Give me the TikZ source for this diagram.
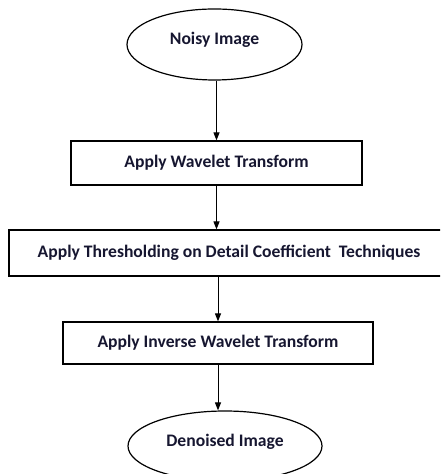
\documentclass[tikz,border=0pt]{standalone}
\usepackage{fontspec}
\setmainfont{Carlito}
\usetikzlibrary{shapes.geometric,arrows.meta}

\definecolor{ink}{RGB}{22,22,48}

\tikzset{
  blk/.style={draw, rectangle, inner sep=0pt, line width=0.6pt, text=ink,
    font=\fontsize{8.8}{10}\selectfont\bfseries},
  term/.style={draw, ellipse, inner sep=0pt, line width=0.6pt, text=ink,
    font=\fontsize{8.8}{10}\selectfont\bfseries},
  arr/.style={-{Triangle[length=4pt,width=3pt]}, line width=0.5pt},
}

\begin{document}
\begin{tikzpicture}[x=0.5pt, y=-0.5pt]
  \useasboundingbox (0,0) rectangle (440,474);
  \clip (0,0) rectangle (440,474);
  % \draw[help lines] (0,0) grid[step=20] (440,474);

  \node at (214.5, 44.5) [term, minimum width=87.5pt, minimum height=35.5pt,
    text depth=6pt] (noisy) {Noisy Image};
  \node at (216.5, 163) [blk, minimum width=145.5pt, minimum height=22pt]
    (wt) {Apply Wavelet Transform};
  \node at (229, 253) [blk, minimum width=220pt, minimum height=23pt]
    (thr) {Apply Thresholding on Detail Coefficient\ \ Techniques};
  \node at (218, 343) [blk, minimum width=155pt, minimum height=21pt]
    (iwt) {Apply Inverse Wavelet Transform};
  \node at (225, 446) [term, minimum width=97pt, minimum height=35pt,
    text depth=6pt] (den) {Denoised Image};

  \draw[arr] (wt |- noisy.south) -- (wt.north);
  \draw[arr] (wt.south) -- (wt.south |- thr.north);
  \draw[arr] (thr.south -| iwt) -- (iwt.north);
  \draw[arr] (iwt.south) -- (iwt.south |- den.north);
\end{tikzpicture}
\end{document}
